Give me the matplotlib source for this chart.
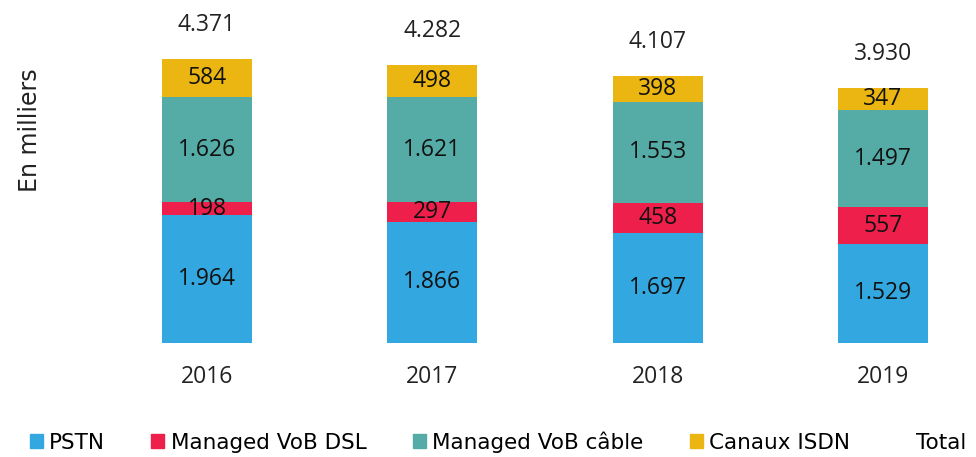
import numpy as np
import matplotlib.pyplot as plt
from matplotlib.patches import Patch

years = ['2016', '2017', '2018', '2019']
pstn = [1964, 1866, 1697, 1529]
dsl = [198, 297, 458, 557]
cable = [1626, 1621, 1553, 1497]
isdn = [584, 498, 398, 347]
totals = [4371, 4282, 4107, 3930]

series = [('PSTN', pstn, '#33A8E0'),
          ('Managed VoB DSL', dsl, '#EE1F4B'),
          ('Managed VoB câble', cable, '#55ABA6'),
          ('Canaux ISDN', isdn, '#EBB611')]

plt.rcParams['font.family'] = ['Open Sans', 'DejaVu Sans']

fig = plt.figure(figsize=(9.76, 4.57), dpi=100)
ax = fig.add_axes([0, 114 / 457, 1, 343 / 457])

x = np.arange(len(years))
bottom = np.zeros(len(years))
handles = []
for name, vals, col in series:
    vals = np.array(vals)
    ax.bar(x, vals, 0.4, bottom=bottom, color=col)
    for xi, b, v in zip(x, bottom, vals):
        ax.text(xi, b + v / 2, f'{v:,}'.replace(',', '.'), ha='center', va='center',
                fontsize=16.5, color='#111111')
    bottom += vals
    handles.append(Patch(color=col, label=name))

# offsets in points (34 px at 100 dpi)
for xi, t, tot in zip(x, bottom, totals):
    ax.annotate(f'{tot:,}'.replace(',', '.'), (xi, t), xytext=(0, 24.5),
                textcoords='offset points', ha='center', va='center',
                fontsize=16.5, color='#222222')
    ax.annotate(years[xi], (xi, 0), xytext=(0, -24.5), textcoords='offset points',
                ha='center', va='center', fontsize=16.5, color='#222222')

handles.append(Patch(color='white', label='Total'))

ax.set_xlim(-207 / 225.3, (976 - 207) / 225.3)
ax.set_ylim(0, 343 / 0.065)
ax.axis('off')

fig.text(30 / 976, 1 - 130 / 457, 'En milliers', rotation=90, ha='center', va='center',
         fontsize=17, color='#222222', family='DejaVu Sans')

fig.legend(handles=handles, loc='center', bbox_to_anchor=(0.51, 1 - 442 / 457), ncol=5,
           frameon=False, handlelength=0.6, handleheight=0.6,
           handletextpad=0.3, columnspacing=2.15,
           prop={'family': 'DejaVu Sans', 'size': 15.5})

fig.savefig('out.png', dpi=100)
